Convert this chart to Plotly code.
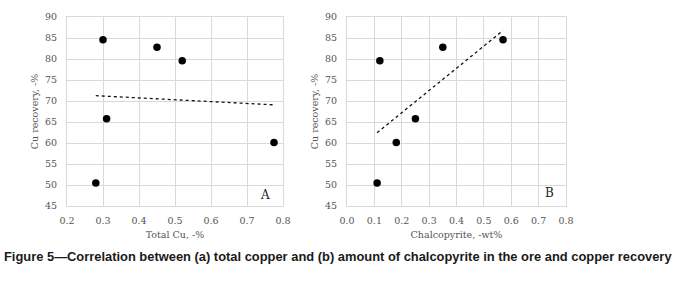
import numpy as np
import plotly.graph_objects as go

# Data
cu_recovery = [50.5, 84.6, 65.8, 82.8, 79.6, 60.1]
total_cu = [0.28, 0.30, 0.31, 0.45, 0.52, 0.775]
rec_b = [50.5, 79.6, 60.1, 65.8, 82.8, 84.6]
chalcopyrite = [0.11, 0.12, 0.18, 0.25, 0.35, 0.57]
x_ticks_a = [0.2, 0.3, 0.4, 0.5, 0.6, 0.7, 0.8]
x_ticks_b = [0.0, 0.1, 0.2, 0.3, 0.4, 0.5, 0.6, 0.7, 0.8]
y_ticks = [45, 50, 55, 60, 65, 70, 75, 80, 85, 90]

W, H = 677, 287
fig = go.Figure()

def trend(x, y):
    x = np.array(x); y = np.array(y)
    m, c = np.polyfit(x, y, 1)
    xs = np.array([x.min(), x.max()])
    return xs, m * xs + c

for i, (xv, yv) in enumerate([(total_cu, cu_recovery), (chalcopyrite, rec_b)]):
    xa = "x" if i == 0 else "x2"
    ya = "y" if i == 0 else "y2"
    tx, ty = trend(xv, yv)
    fig.add_trace(go.Scatter(x=tx, y=ty, mode="lines", xaxis=xa, yaxis=ya,
                             line=dict(color="#111", width=1.3, dash="dot"), showlegend=False))
    fig.add_trace(go.Scatter(x=xv, y=yv, mode="markers", xaxis=xa, yaxis=ya,
                             marker=dict(color="black", size=7.5), showlegend=False))

SERIF = "DejaVu Serif, Liberation Serif, serif"
tickfont = dict(family=SERIF, size=9.5, color="#555555")
titlefont = dict(family=SERIF, size=9.5, color="#555555")

def px_x(p):
    return p / W

def px_y(p):
    return 1 - p / H

yd = [px_y(206), px_y(17)]
common_x = dict(showgrid=True, gridcolor="#d9d9d9", gridwidth=1, showline=True, linecolor="#d9d9d9",
                zeroline=False, tickfont=tickfont, ticks="", automargin=False, tickformat=".1f",
                ticklabelstandoff=6, mirror=True)
common_y = dict(showgrid=True, gridcolor="#d9d9d9", gridwidth=1, showline=True, linecolor="#d9d9d9",
                zeroline=False, tickfont=tickfont, ticks="", automargin=False, range=[45, 90],
                tickvals=y_ticks, mirror=True, ticklabelstandoff=7)

fig.update_layout(
    width=W, height=H, paper_bgcolor="white", plot_bgcolor="white",
    margin=dict(l=0, r=0, t=0, b=0),
    xaxis=dict(domain=[px_x(67), px_x(283)], range=[0.2, 0.8], tickvals=x_ticks_a, anchor="y",
               title=dict(text="Total Cu, -%", font=titlefont, standoff=5), **common_x),
    yaxis=dict(domain=yd, anchor="x", title=dict(text="Cu recovery, -%", font=titlefont, standoff=4), **common_y),
    xaxis2=dict(domain=[px_x(347), px_x(566)], range=[0.0, 0.8], tickvals=x_ticks_b, anchor="y2",
                title=dict(text="Chalcopyrite, -wt%", font=titlefont, standoff=5), **common_x),
    yaxis2=dict(domain=yd, anchor="x2", title=dict(text="Cu recovery, -%", font=titlefont, standoff=4), **common_y),
    annotations=[
        dict(text="A", x=0.75, y=47.6, xref="x", yref="y", showarrow=False,
             font=dict(family=SERIF, size=12, color="#222")),
        dict(text="B", x=0.74, y=48.0, xref="x2", yref="y2", showarrow=False,
             font=dict(family=SERIF, size=12, color="#222")),
        dict(text="<b>Figure 5\u2014Correlation between (a) total copper and (b) amount of chalcopyrite in the ore and copper recovery</b>",
             x=px_x(338), y=px_y(256), xref="paper", yref="paper", showarrow=False,
             xanchor="center", yanchor="middle",
             font=dict(family="Liberation Sans Narrow, Arial Narrow, Liberation Sans, Arial, sans-serif", size=12.9, color="#1a1a1a")),
    ],
)

fig.write_html("out.html", config={"displayModeBar": False},
               post_script="document.body.style.margin='0';")
